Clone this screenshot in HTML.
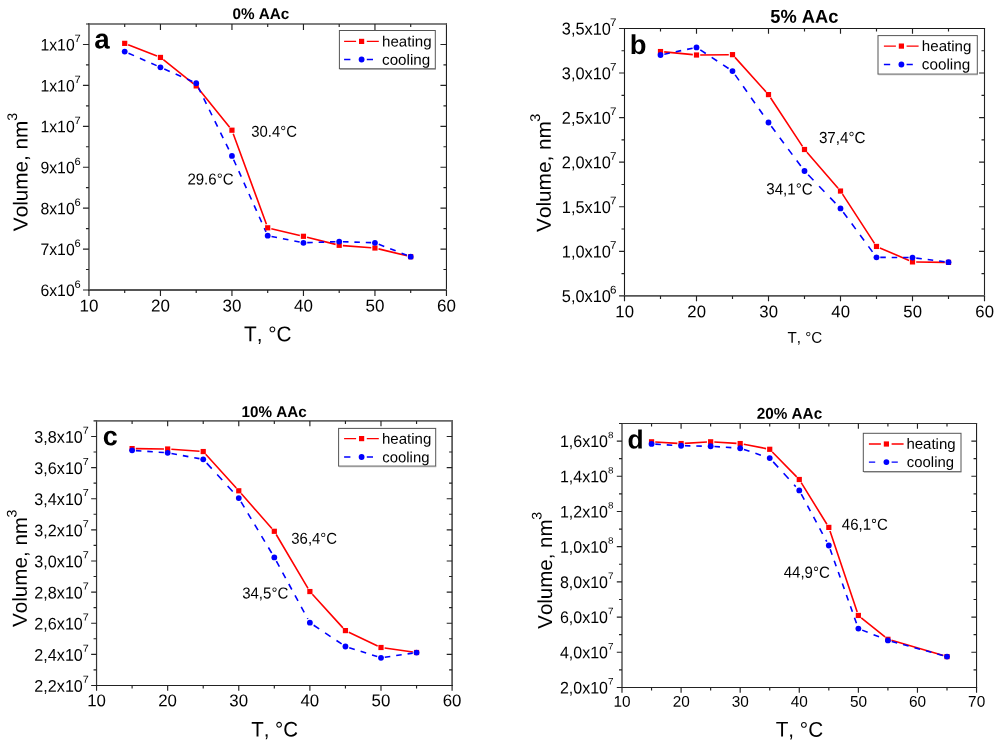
<!DOCTYPE html>
<html><head><meta charset="utf-8"><style>
html,body{margin:0;padding:0;background:#fff;width:1000px;height:746px;overflow:hidden;}
svg{display:block;will-change:transform;}
text{font-family:"Liberation Sans", sans-serif;fill:#000;text-rendering:geometricPrecision;font-kerning:none;}
</style></head><body>
<svg width="1000" height="746" viewBox="0 0 1000 746">
<rect width="1000" height="746" fill="#fff"/>
<path d="M88.95 23.15V290.9" stroke="#444" stroke-width="1.4"/>
<path d="M446.45 23.15V290.9" stroke="#222" stroke-width="1.1"/>
<path d="M88.25 24H447" stroke="#555" stroke-width="1.7"/>
<path d="M88.25 290H447" stroke="#555" stroke-width="1.8"/>
<path d="M88.95 290v6M124.7 290v3M124.7 24v3M160.45 290v6M160.45 24v6M196.2 290v3M196.2 24v3M231.95 290v6M231.95 24v6M267.7 290v3M267.7 24v3M303.45 290v6M303.45 24v6M339.2 290v3M339.2 24v3M374.95 290v6M374.95 24v6M410.7 290v3M410.7 24v3M446.45 290v6M88.95 290h-6M88.95 269.54h-3M446.45 269.54h-3M88.95 249.08h-6M446.45 249.08h-6M88.95 228.62h-3M446.45 228.62h-3M88.95 208.15h-6M446.45 208.15h-6M88.95 187.69h-3M446.45 187.69h-3M88.95 167.23h-6M446.45 167.23h-6M88.95 146.77h-3M446.45 146.77h-3M88.95 126.31h-6M446.45 126.31h-6M88.95 105.85h-3M446.45 105.85h-3M88.95 85.38h-6M446.45 85.38h-6M88.95 64.92h-3M446.45 64.92h-3M88.95 44.46h-6M446.45 44.46h-6M88.95 24h-3" stroke="#222" stroke-width="1.15" fill="none"/>
<text transform="translate(89.07 311.43) rotate(0.05) scale(1 1.01)" font-size="16.99" text-anchor="middle">10</text>
<text transform="translate(160.57 311.43) rotate(0.05) scale(1 1.01)" font-size="16.99" text-anchor="middle">20</text>
<text transform="translate(232.07 311.43) rotate(0.05) scale(1 1.01)" font-size="16.99" text-anchor="middle">30</text>
<text transform="translate(303.57 311.43) rotate(0.05) scale(1 1.01)" font-size="16.99" text-anchor="middle">40</text>
<text transform="translate(375.07 311.43) rotate(0.05) scale(1 1.01)" font-size="16.99" text-anchor="middle">50</text>
<text transform="translate(446.57 311.43) rotate(0.05) scale(1 1.01)" font-size="16.99" text-anchor="middle">60</text>
<text transform="translate(74.68 296.07) rotate(0.05) scale(1 1.05)" font-size="15.79" text-anchor="end">6x10</text>
<text transform="translate(74.52 287.65) rotate(0.05) scale(1 0.95)" font-size="11.13">6</text>
<text transform="translate(74.68 255.14) rotate(0.05) scale(1 1.05)" font-size="15.79" text-anchor="end">7x10</text>
<text transform="translate(74.52 246.73) rotate(0.05) scale(1 0.95)" font-size="11.13">6</text>
<text transform="translate(74.68 214.22) rotate(0.05) scale(1 1.05)" font-size="15.79" text-anchor="end">8x10</text>
<text transform="translate(74.52 205.81) rotate(0.05) scale(1 0.95)" font-size="11.13">6</text>
<text transform="translate(74.68 173.3) rotate(0.05) scale(1 1.05)" font-size="15.79" text-anchor="end">9x10</text>
<text transform="translate(74.52 164.88) rotate(0.05) scale(1 0.95)" font-size="11.13">6</text>
<text transform="translate(74.68 132.37) rotate(0.05) scale(1 1.05)" font-size="15.79" text-anchor="end">1x10</text>
<text transform="translate(74.52 123.96) rotate(0.05) scale(1 0.95)" font-size="11.13">7</text>
<text transform="translate(74.68 91.45) rotate(0.05) scale(1 1.05)" font-size="15.79" text-anchor="end">1x10</text>
<text transform="translate(74.52 83.04) rotate(0.05) scale(1 0.95)" font-size="11.13">7</text>
<text transform="translate(74.68 50.53) rotate(0.05) scale(1 1.05)" font-size="15.79" text-anchor="end">1x10</text>
<text transform="translate(74.52 42.11) rotate(0.05) scale(1 0.95)" font-size="11.13">7</text>
<path d="M128.14 44.72L157.01 56.08M163.34 59.74L193.31 83.6M198.52 88.78L229.63 127.32M233.22 133.67L266.43 224.33M271.3 228.66L299.85 235.44M307.04 237.2L335.61 244.4M342.89 245.58L371.26 247.72M378.55 248.87L407.1 255.83" fill="none" stroke="#f00" stroke-width="1.6"/>
<path d="M128.5 53.21L156.65 65.63" stroke="#00f" stroke-width="1.6" stroke-dasharray="6.01 6.45"/>
<path d="M164.25 68.99L192.4 81.47" stroke="#00f" stroke-width="1.6" stroke-dasharray="6.02 6.45"/>
<path d="M198.07 86.95L230.08 152.16" stroke="#00f" stroke-width="1.6" stroke-dasharray="6.13 6.57"/>
<path d="M233.65 159.76L266 231.9" stroke="#00f" stroke-width="1.6" stroke-dasharray="6.03 6.47"/>
<path d="M271.5 236.45L299.65 242.05" stroke="#00f" stroke-width="1.6" stroke-dasharray="5.61 6.02"/>
<path d="M307.25 242.67L335.4 241.73" stroke="#00f" stroke-width="1.6" stroke-dasharray="5.5 5.9"/>
<path d="M343 241.73L371.15 242.67" stroke="#00f" stroke-width="1.6" stroke-dasharray="5.5 5.9"/>
<path d="M378.75 244.28L406.9 255.22" stroke="#00f" stroke-width="1.6" stroke-dasharray="5.9 6.33"/>
<rect x="122.1" y="40.76" width="5.2" height="5.2" fill="#f00"/>
<rect x="157.85" y="54.84" width="5.2" height="5.2" fill="#f00"/>
<rect x="193.6" y="83.3" width="5.2" height="5.2" fill="#f00"/>
<rect x="229.35" y="127.6" width="5.2" height="5.2" fill="#f00"/>
<rect x="265.1" y="225.2" width="5.2" height="5.2" fill="#f00"/>
<rect x="300.85" y="233.7" width="5.2" height="5.2" fill="#f00"/>
<rect x="336.6" y="242.7" width="5.2" height="5.2" fill="#f00"/>
<rect x="372.35" y="245.4" width="5.2" height="5.2" fill="#f00"/>
<rect x="408.1" y="254.1" width="5.2" height="5.2" fill="#f00"/>
<circle cx="124.7" cy="51.53" r="2.9" fill="#00f"/>
<circle cx="160.45" cy="67.31" r="2.9" fill="#00f"/>
<circle cx="196.2" cy="83.15" r="2.9" fill="#00f"/>
<circle cx="231.95" cy="155.96" r="2.9" fill="#00f"/>
<circle cx="267.7" cy="235.7" r="2.9" fill="#00f"/>
<circle cx="303.45" cy="242.8" r="2.9" fill="#00f"/>
<circle cx="339.2" cy="241.6" r="2.9" fill="#00f"/>
<circle cx="374.95" cy="242.8" r="2.9" fill="#00f"/>
<circle cx="410.7" cy="256.7" r="2.9" fill="#00f"/>
<rect x="339.4" y="30.5" width="95.9" height="38.2" fill="#fff" stroke="#555" stroke-width="1"/>
<line x1="339.9" y1="69.3" x2="435.8" y2="69.3" stroke="#999" stroke-width="1"/>
<path d="M344.1 41.4h12M366.8 41.4h12" stroke="#f00" stroke-width="1.3"/>
<rect x="359" y="38.8" width="5.2" height="5.2" fill="#f00"/>
<path d="M344.1 59.5h6.3M366.8 59.5h6.2" stroke="#00f" stroke-width="1.3"/>
<circle cx="361.6" cy="59.5" r="2.9" fill="#00f"/>
<text transform="translate(232.41 19) rotate(0.05) scale(1.0000 1.0200)" font-size="15.29" font-weight="bold">0% AAc</text>
<text transform="translate(94.18 48.4) rotate(0.05)" font-size="27.79" font-weight="bold">a</text>
<text transform="translate(251.28 136.79) rotate(0.05) scale(1.0000 1.0600)" font-size="14.89">30.4°C</text>
<text transform="translate(187.38 184.53) rotate(0.05) scale(1.0000 1.0600)" font-size="15.04">29.6°C</text>
<text transform="translate(244.03 341.32) rotate(0.05) scale(1.0000 1.0250)" font-size="20.79">T, °C</text>
<text transform="translate(27.5 231.15) rotate(-89.95) scale(0.9625 0.9400)" font-size="21.5">Volume, nm<tspan font-size="14.75" dx="-0.07" dy="-11.4">3</tspan></text>
<text transform="translate(381.98 46.52) rotate(0.05) scale(1.0000 0.9900)" font-size="15.11">heating</text>
<text transform="translate(382.11 64.66) rotate(0.05) scale(1.0000 0.9900)" font-size="15.17">cooling</text>
<path d="M624.5 27.9V296.8" stroke="#1a1a1a" stroke-width="1.1"/>
<path d="M984.5 27.9V296.8" stroke="#222" stroke-width="1.1"/>
<path d="M623.95 28.45H985.05" stroke="#1a1a1a" stroke-width="1.1"/>
<path d="M623.95 295.9H985.05" stroke="#555" stroke-width="1.8"/>
<path d="M624.5 295.9v5.4M660.5 295.9v3M660.5 28.45v3M696.5 295.9v5.4M696.5 28.45v5.4M732.5 295.9v3M732.5 28.45v3M768.5 295.9v5.4M768.5 28.45v5.4M804.5 295.9v3M804.5 28.45v3M840.5 295.9v5.4M840.5 28.45v5.4M876.5 295.9v3M876.5 28.45v3M912.5 295.9v5.4M912.5 28.45v5.4M948.5 295.9v3M948.5 28.45v3M984.5 295.9v5.4M624.5 295.9h-5.4M624.5 273.61h-3M984.5 273.61h-3M624.5 251.32h-5.4M984.5 251.32h-5.4M624.5 229.04h-3M984.5 229.04h-3M624.5 206.75h-5.4M984.5 206.75h-5.4M624.5 184.46h-3M984.5 184.46h-3M624.5 162.17h-5.4M984.5 162.17h-5.4M624.5 139.89h-3M984.5 139.89h-3M624.5 117.6h-5.4M984.5 117.6h-5.4M624.5 95.31h-3M984.5 95.31h-3M624.5 73.02h-5.4M984.5 73.02h-5.4M624.5 50.74h-3M984.5 50.74h-3M624.5 28.45h-5.4" stroke="#222" stroke-width="1.15" fill="none"/>
<text transform="translate(624.65 317.23) rotate(0.05) scale(1 1.01)" font-size="16.7" text-anchor="middle">10</text>
<text transform="translate(696.65 317.23) rotate(0.05) scale(1 1.01)" font-size="16.7" text-anchor="middle">20</text>
<text transform="translate(768.65 317.23) rotate(0.05) scale(1 1.01)" font-size="16.7" text-anchor="middle">30</text>
<text transform="translate(840.65 317.23) rotate(0.05) scale(1 1.01)" font-size="16.7" text-anchor="middle">40</text>
<text transform="translate(912.65 317.23) rotate(0.05) scale(1 1.01)" font-size="16.7" text-anchor="middle">50</text>
<text transform="translate(984.65 317.23) rotate(0.05) scale(1 1.01)" font-size="16.7" text-anchor="middle">60</text>
<text transform="translate(610.94 302.1) rotate(0.05) scale(1 1.05)" font-size="16.35" text-anchor="end">5,0x10</text>
<text transform="translate(610.11 293.4) rotate(0.05) scale(1 0.95)" font-size="11.65">6</text>
<text transform="translate(610.94 257.52) rotate(0.05) scale(1 1.05)" font-size="16.35" text-anchor="end">1,0x10</text>
<text transform="translate(610.11 248.83) rotate(0.05) scale(1 0.95)" font-size="11.65">7</text>
<text transform="translate(610.94 212.95) rotate(0.05) scale(1 1.05)" font-size="16.35" text-anchor="end">1,5x10</text>
<text transform="translate(610.11 204.25) rotate(0.05) scale(1 0.95)" font-size="11.65">7</text>
<text transform="translate(610.94 168.37) rotate(0.05) scale(1 1.05)" font-size="16.35" text-anchor="end">2,0x10</text>
<text transform="translate(610.11 159.68) rotate(0.05) scale(1 0.95)" font-size="11.65">7</text>
<text transform="translate(610.94 123.8) rotate(0.05) scale(1 1.05)" font-size="16.35" text-anchor="end">2,5x10</text>
<text transform="translate(610.11 115.1) rotate(0.05) scale(1 0.95)" font-size="11.65">7</text>
<text transform="translate(610.94 79.22) rotate(0.05) scale(1 1.05)" font-size="16.35" text-anchor="end">3,0x10</text>
<text transform="translate(610.11 70.53) rotate(0.05) scale(1 0.95)" font-size="11.65">7</text>
<text transform="translate(610.94 34.65) rotate(0.05) scale(1 1.05)" font-size="16.35" text-anchor="end">3,5x10</text>
<text transform="translate(610.11 25.95) rotate(0.05) scale(1 0.95)" font-size="11.65">7</text>
<path d="M664.18 51.9L692.82 54.65M700.2 54.96L728.8 54.69M734.98 57.4L766.02 91.85M770.53 97.69L802.47 146.41M806.92 152.3L838.08 188.25M842.52 194.15L874.48 243.35M879.9 247.91L909.1 260.44M916.2 261.95L944.8 262.35" fill="none" stroke="#f00" stroke-width="1.6"/>
<path d="M664.3 54.2L692.7 48.2" stroke="#00f" stroke-width="1.6" stroke-dasharray="5.62 6.03"/>
<path d="M700.3 49.9L728.7 68.6" stroke="#00f" stroke-width="1.6" stroke-dasharray="6.58 7.06"/>
<path d="M735.16 74.9L765.84 118.7" stroke="#00f" stroke-width="1.6" stroke-dasharray="6.71 7.2"/>
<path d="M771.32 126.3L801.68 167.2" stroke="#00f" stroke-width="1.6" stroke-dasharray="6.85 7.35"/>
<path d="M808.16 174.8L836.84 204.6" stroke="#00f" stroke-width="1.6" stroke-dasharray="7.63 8.19"/>
<path d="M843.29 212.2L873.71 253.55" stroke="#00f" stroke-width="1.6" stroke-dasharray="6.83 7.32"/>
<path d="M880.3 257.38L908.7 257.57" stroke="#00f" stroke-width="1.6" stroke-dasharray="5.5 5.9"/>
<path d="M916.3 258.09L944.7 261.71" stroke="#00f" stroke-width="1.6" stroke-dasharray="5.54 5.95"/>
<rect x="657.9" y="48.95" width="5.2" height="5.2" fill="#f00"/>
<rect x="693.9" y="52.4" width="5.2" height="5.2" fill="#f00"/>
<rect x="729.9" y="52.05" width="5.2" height="5.2" fill="#f00"/>
<rect x="765.9" y="92" width="5.2" height="5.2" fill="#f00"/>
<rect x="801.9" y="146.9" width="5.2" height="5.2" fill="#f00"/>
<rect x="837.9" y="188.45" width="5.2" height="5.2" fill="#f00"/>
<rect x="873.9" y="243.85" width="5.2" height="5.2" fill="#f00"/>
<rect x="909.9" y="259.3" width="5.2" height="5.2" fill="#f00"/>
<rect x="945.9" y="259.8" width="5.2" height="5.2" fill="#f00"/>
<circle cx="660.5" cy="55" r="2.9" fill="#00f"/>
<circle cx="696.5" cy="47.4" r="2.9" fill="#00f"/>
<circle cx="732.5" cy="71.1" r="2.9" fill="#00f"/>
<circle cx="768.5" cy="122.5" r="2.9" fill="#00f"/>
<circle cx="804.5" cy="171" r="2.9" fill="#00f"/>
<circle cx="840.5" cy="208.4" r="2.9" fill="#00f"/>
<circle cx="876.5" cy="257.35" r="2.9" fill="#00f"/>
<circle cx="912.5" cy="257.6" r="2.9" fill="#00f"/>
<circle cx="948.5" cy="262.2" r="2.9" fill="#00f"/>
<rect x="878" y="35.6" width="99.3" height="38.5" fill="#fff" stroke="#555" stroke-width="1"/>
<line x1="878.5" y1="74.7" x2="977.8" y2="74.7" stroke="#999" stroke-width="1"/>
<path d="M883.9 46.1h12M906.6 46.1h12" stroke="#f00" stroke-width="1.3"/>
<rect x="898.8" y="43.5" width="5.2" height="5.2" fill="#f00"/>
<path d="M883.9 64.5h6.3M906.6 64.5h6.2" stroke="#00f" stroke-width="1.3"/>
<circle cx="901.4" cy="64.5" r="2.9" fill="#00f"/>
<text transform="translate(770.37 22.79) rotate(0.05) scale(1.0000 1.0200)" font-size="18.3" font-weight="bold">5% AAc</text>
<text transform="translate(629.77 53.89) rotate(0.05)" font-size="27.41" font-weight="bold">b</text>
<text transform="translate(818.89 142.97) rotate(0.05) scale(1.0000 1.0600)" font-size="15.2">37,4°C</text>
<text transform="translate(766.26 194.37) rotate(0.05) scale(1.0000 1.0600)" font-size="15.15">34,1°C</text>
<text transform="translate(787.56 342.7) rotate(0.05) scale(1.0000 1.0250)" font-size="15.14">T, °C</text>
<text transform="translate(550.67 231.95) rotate(-89.95) scale(0.9655 0.9400)" font-size="21.5">Volume, nm<tspan font-size="15.03" dx="-0.58" dy="-11.53">3</tspan></text>
<text transform="translate(921.86 51.1) rotate(0.05) scale(1.0000 0.9900)" font-size="15.11">heating</text>
<text transform="translate(921.82 69.37) rotate(0.05) scale(1.0000 0.9900)" font-size="15.28">cooling</text>
<path d="M96.55 419.95V686" stroke="#333" stroke-width="1.2"/>
<path d="M452.1 419.95V686" stroke="#555" stroke-width="1.7"/>
<path d="M95.95 420.9H452.95" stroke="#666" stroke-width="1.9"/>
<path d="M95.95 685.45H452.95" stroke="#222" stroke-width="1.1"/>
<path d="M96.55 685.45v5.4M132.1 685.45v3M132.1 420.9v3M167.66 685.45v5.4M167.66 420.9v5.4M203.22 685.45v3M203.22 420.9v3M238.77 685.45v5.4M238.77 420.9v5.4M274.32 685.45v3M274.32 420.9v3M309.88 685.45v5.4M309.88 420.9v5.4M345.44 685.45v3M345.44 420.9v3M380.99 685.45v5.4M380.99 420.9v5.4M416.55 685.45v3M416.55 420.9v3M452.1 685.45v5.4M96.55 685.45h-5.4M96.55 669.89h-3M452.1 669.89h-3M96.55 654.33h-5.4M452.1 654.33h-5.4M96.55 638.76h-3M452.1 638.76h-3M96.55 623.2h-5.4M452.1 623.2h-5.4M96.55 607.64h-3M452.1 607.64h-3M96.55 592.08h-5.4M452.1 592.08h-5.4M96.55 576.52h-3M452.1 576.52h-3M96.55 560.96h-5.4M452.1 560.96h-5.4M96.55 545.39h-3M452.1 545.39h-3M96.55 529.83h-5.4M452.1 529.83h-5.4M96.55 514.27h-3M452.1 514.27h-3M96.55 498.71h-5.4M452.1 498.71h-5.4M96.55 483.15h-3M452.1 483.15h-3M96.55 467.59h-5.4M452.1 467.59h-5.4M96.55 452.02h-3M452.1 452.02h-3M96.55 436.46h-5.4M452.1 436.46h-5.4M96.55 420.9h-3" stroke="#222" stroke-width="1.15" fill="none"/>
<text transform="translate(96.51 706.35) rotate(0.05) scale(1 1.01)" font-size="16.85" text-anchor="middle">10</text>
<text transform="translate(167.62 706.35) rotate(0.05) scale(1 1.01)" font-size="16.85" text-anchor="middle">20</text>
<text transform="translate(238.73 706.35) rotate(0.05) scale(1 1.01)" font-size="16.85" text-anchor="middle">30</text>
<text transform="translate(309.84 706.35) rotate(0.05) scale(1 1.01)" font-size="16.85" text-anchor="middle">40</text>
<text transform="translate(380.95 706.35) rotate(0.05) scale(1 1.01)" font-size="16.85" text-anchor="middle">50</text>
<text transform="translate(452.06 706.35) rotate(0.05) scale(1 1.01)" font-size="16.85" text-anchor="middle">60</text>
<text transform="translate(82.84 691.8) rotate(0.05) scale(1 1.05)" font-size="16.15" text-anchor="end">2,2x10</text>
<text transform="translate(82.63 682.86) rotate(0.05) scale(1 0.95)" font-size="10.76">7</text>
<text transform="translate(82.84 660.67) rotate(0.05) scale(1 1.05)" font-size="16.15" text-anchor="end">2,4x10</text>
<text transform="translate(82.63 651.74) rotate(0.05) scale(1 0.95)" font-size="10.76">7</text>
<text transform="translate(82.84 629.55) rotate(0.05) scale(1 1.05)" font-size="16.15" text-anchor="end">2,6x10</text>
<text transform="translate(82.63 620.61) rotate(0.05) scale(1 0.95)" font-size="10.76">7</text>
<text transform="translate(82.84 598.42) rotate(0.05) scale(1 1.05)" font-size="16.15" text-anchor="end">2,8x10</text>
<text transform="translate(82.63 589.49) rotate(0.05) scale(1 0.95)" font-size="10.76">7</text>
<text transform="translate(82.84 567.3) rotate(0.05) scale(1 1.05)" font-size="16.15" text-anchor="end">3,0x10</text>
<text transform="translate(82.63 558.37) rotate(0.05) scale(1 0.95)" font-size="10.76">7</text>
<text transform="translate(82.84 536.18) rotate(0.05) scale(1 1.05)" font-size="16.15" text-anchor="end">3,2x10</text>
<text transform="translate(82.63 527.24) rotate(0.05) scale(1 0.95)" font-size="10.76">7</text>
<text transform="translate(82.84 505.05) rotate(0.05) scale(1 1.05)" font-size="16.15" text-anchor="end">3,4x10</text>
<text transform="translate(82.63 496.12) rotate(0.05) scale(1 0.95)" font-size="10.76">7</text>
<text transform="translate(82.84 473.93) rotate(0.05) scale(1 1.05)" font-size="16.15" text-anchor="end">3,6x10</text>
<text transform="translate(82.63 465) rotate(0.05) scale(1 0.95)" font-size="10.76">7</text>
<text transform="translate(82.84 442.81) rotate(0.05) scale(1 1.05)" font-size="16.15" text-anchor="end">3,8x10</text>
<text transform="translate(82.63 433.87) rotate(0.05) scale(1 0.95)" font-size="10.76">7</text>
<path d="M135.8 448.64L163.96 448.96M171.35 449.26L199.53 451.29M205.7 454.29L236.29 488.06M241.21 493.58L271.88 528.52M276.2 534.49L308 588.36M312.37 594.29L342.95 627.86M348.78 632.19L377.65 645.91M384.65 648.02L412.89 651.98" fill="none" stroke="#f00" stroke-width="1.6"/>
<path d="M135.9 450.61L163.86 452.54" stroke="#00f" stroke-width="1.6" stroke-dasharray="5.51 5.91"/>
<path d="M171.46 453.5L199.42 458.65" stroke="#00f" stroke-width="1.6" stroke-dasharray="5.59 6"/>
<path d="M206.71 463.15L235.28 494.3" stroke="#00f" stroke-width="1.6" stroke-dasharray="7.46 8.01"/>
<path d="M241.05 501.9L272.04 553.6" stroke="#00f" stroke-width="1.6" stroke-dasharray="6.41 6.88"/>
<path d="M276.39 561.2L307.81 618.9" stroke="#00f" stroke-width="1.6" stroke-dasharray="6.26 6.72"/>
<path d="M313.68 625.24L341.64 643.96" stroke="#00f" stroke-width="1.6" stroke-dasharray="6.62 7.1"/>
<path d="M349.24 647.71L377.19 656.59" stroke="#00f" stroke-width="1.6" stroke-dasharray="5.77 6.19"/>
<path d="M384.79 657.24L412.75 653.16" stroke="#00f" stroke-width="1.6" stroke-dasharray="5.56 5.96"/>
<rect x="129.5" y="446" width="5.2" height="5.2" fill="#f00"/>
<rect x="165.06" y="446.4" width="5.2" height="5.2" fill="#f00"/>
<rect x="200.62" y="448.95" width="5.2" height="5.2" fill="#f00"/>
<rect x="236.17" y="488.2" width="5.2" height="5.2" fill="#f00"/>
<rect x="271.72" y="528.7" width="5.2" height="5.2" fill="#f00"/>
<rect x="307.28" y="588.95" width="5.2" height="5.2" fill="#f00"/>
<rect x="342.84" y="628" width="5.2" height="5.2" fill="#f00"/>
<rect x="378.39" y="644.9" width="5.2" height="5.2" fill="#f00"/>
<rect x="413.95" y="649.9" width="5.2" height="5.2" fill="#f00"/>
<circle cx="132.1" cy="450.35" r="2.9" fill="#00f"/>
<circle cx="167.66" cy="452.8" r="2.9" fill="#00f"/>
<circle cx="203.22" cy="459.35" r="2.9" fill="#00f"/>
<circle cx="238.77" cy="498.1" r="2.9" fill="#00f"/>
<circle cx="274.32" cy="557.4" r="2.9" fill="#00f"/>
<circle cx="309.88" cy="622.7" r="2.9" fill="#00f"/>
<circle cx="345.44" cy="646.5" r="2.9" fill="#00f"/>
<circle cx="380.99" cy="657.8" r="2.9" fill="#00f"/>
<circle cx="416.55" cy="652.6" r="2.9" fill="#00f"/>
<rect x="338.6" y="428.4" width="97.1" height="37.7" fill="#fff" stroke="#555" stroke-width="1"/>
<line x1="339.1" y1="466.7" x2="436.2" y2="466.7" stroke="#999" stroke-width="1"/>
<path d="M344.1 438.6h12M366.8 438.6h12" stroke="#f00" stroke-width="1.3"/>
<rect x="359" y="436" width="5.2" height="5.2" fill="#f00"/>
<path d="M344.1 457h6.3M366.8 457h6.2" stroke="#00f" stroke-width="1.3"/>
<circle cx="361.6" cy="457" r="2.9" fill="#00f"/>
<text transform="translate(241.62 417.07) rotate(0.05) scale(1.0000 1.0200)" font-size="15.22" font-weight="bold">10% AAc</text>
<text transform="translate(102.71 445.13) rotate(0.05)" font-size="26.94" font-weight="bold">c</text>
<text transform="translate(291.33 543.77) rotate(0.05) scale(1.0000 1.0600)" font-size="14.91">36,4°C</text>
<text transform="translate(242.16 598.38) rotate(0.05) scale(1.0000 1.0600)" font-size="15.03">34,5°C</text>
<text transform="translate(251.17 736.53) rotate(0.05) scale(1.0000 1.0250)" font-size="20.49">T, °C</text>
<text transform="translate(26.82 626.93) rotate(-89.95) scale(0.9585 0.9400)" font-size="21.5">Volume, nm<tspan font-size="14.73" dx="-0.55" dy="-11.02">3</tspan></text>
<text transform="translate(381.89 443.73) rotate(0.05) scale(1.0000 0.9900)" font-size="15.05">heating</text>
<text transform="translate(382.23 462.17) rotate(0.05) scale(1.0000 0.9900)" font-size="14.91">cooling</text>
<path d="M622 422.9V688" stroke="#555" stroke-width="1.5"/>
<path d="M976.55 422.9V688" stroke="#222" stroke-width="1.1"/>
<path d="M621.25 423.45H977.1" stroke="#333" stroke-width="1.1"/>
<path d="M621.25 687.45H977.1" stroke="#222" stroke-width="1.1"/>
<path d="M622 687.45v5.2M651.55 687.45v3M651.55 423.45v3M681.09 687.45v5.2M681.09 423.45v5.2M710.64 687.45v3M710.64 423.45v3M740.18 687.45v5.2M740.18 423.45v5.2M769.73 687.45v3M769.73 423.45v3M799.27 687.45v5.2M799.27 423.45v5.2M828.82 687.45v3M828.82 423.45v3M858.37 687.45v5.2M858.37 423.45v5.2M887.91 687.45v3M887.91 423.45v3M917.46 687.45v5.2M917.46 423.45v5.2M947 687.45v3M947 423.45v3M976.55 687.45v5.2M622 687.45h-5.2M622 669.85h-3M976.55 669.85h-3M622 652.25h-5.2M976.55 652.25h-5.2M622 634.65h-3M976.55 634.65h-3M622 617.05h-5.2M976.55 617.05h-5.2M622 599.45h-3M976.55 599.45h-3M622 581.85h-5.2M976.55 581.85h-5.2M622 564.25h-3M976.55 564.25h-3M622 546.65h-5.2M976.55 546.65h-5.2M622 529.05h-3M976.55 529.05h-3M622 511.45h-5.2M976.55 511.45h-5.2M622 493.85h-3M976.55 493.85h-3M622 476.25h-5.2M976.55 476.25h-5.2M622 458.65h-3M976.55 458.65h-3M622 441.05h-5.2M976.55 441.05h-5.2M622 423.45h-3" stroke="#222" stroke-width="1.15" fill="none"/>
<text transform="translate(622.09 706.86) rotate(0.05) scale(1 1.01)" font-size="15.37" text-anchor="middle">10</text>
<text transform="translate(681.19 706.86) rotate(0.05) scale(1 1.01)" font-size="15.37" text-anchor="middle">20</text>
<text transform="translate(740.28 706.86) rotate(0.05) scale(1 1.01)" font-size="15.37" text-anchor="middle">30</text>
<text transform="translate(799.37 706.86) rotate(0.05) scale(1 1.01)" font-size="15.37" text-anchor="middle">40</text>
<text transform="translate(858.46 706.86) rotate(0.05) scale(1 1.01)" font-size="15.37" text-anchor="middle">50</text>
<text transform="translate(917.55 706.86) rotate(0.05) scale(1 1.01)" font-size="15.37" text-anchor="middle">60</text>
<text transform="translate(976.64 706.86) rotate(0.05) scale(1 1.01)" font-size="15.37" text-anchor="middle">70</text>
<text transform="translate(607.93 693.53) rotate(0.05) scale(1 1.05)" font-size="16" text-anchor="end">2,0x10</text>
<text transform="translate(608.09 684.59) rotate(0.05) scale(1 0.95)" font-size="9.92">7</text>
<text transform="translate(607.93 658.33) rotate(0.05) scale(1 1.05)" font-size="16" text-anchor="end">4,0x10</text>
<text transform="translate(608.09 649.39) rotate(0.05) scale(1 0.95)" font-size="9.92">7</text>
<text transform="translate(607.93 623.13) rotate(0.05) scale(1 1.05)" font-size="16" text-anchor="end">6,0x10</text>
<text transform="translate(608.09 614.19) rotate(0.05) scale(1 0.95)" font-size="9.92">7</text>
<text transform="translate(607.93 587.93) rotate(0.05) scale(1 1.05)" font-size="16" text-anchor="end">8,0x10</text>
<text transform="translate(608.09 578.99) rotate(0.05) scale(1 0.95)" font-size="9.92">7</text>
<text transform="translate(607.93 552.73) rotate(0.05) scale(1 1.05)" font-size="16" text-anchor="end">1,0x10</text>
<text transform="translate(608.09 543.79) rotate(0.05) scale(1 0.95)" font-size="9.92">8</text>
<text transform="translate(607.93 517.53) rotate(0.05) scale(1 1.05)" font-size="16" text-anchor="end">1,2x10</text>
<text transform="translate(608.09 508.59) rotate(0.05) scale(1 0.95)" font-size="9.92">8</text>
<text transform="translate(607.93 482.33) rotate(0.05) scale(1 1.05)" font-size="16" text-anchor="end">1,4x10</text>
<text transform="translate(608.09 473.39) rotate(0.05) scale(1 0.95)" font-size="9.92">8</text>
<text transform="translate(607.93 447.13) rotate(0.05) scale(1 1.05)" font-size="16" text-anchor="end">1,6x10</text>
<text transform="translate(608.09 438.19) rotate(0.05) scale(1 0.95)" font-size="9.92">8</text>
<path d="M655.24 442.02L677.4 443.33M684.78 443.33L706.95 442.02M714.33 442.02L736.49 443.33M743.81 444.26L766.1 448.59M772.32 451.95L796.68 476.85M801.21 482.65L826.88 524.25M830 530.91L857.19 611.94M861.25 617.77L885.03 636.98M891.46 640.34L943.45 655.56" fill="none" stroke="#f00" stroke-width="1.6"/>
<path d="M655.35 444.14L677.29 445.51" stroke="#00f" stroke-width="1.6" stroke-dasharray="5.51 5.91"/>
<path d="M684.89 445.81L706.84 446.19" stroke="#00f" stroke-width="1.6" stroke-dasharray="5.5 5.9"/>
<path d="M714.44 446.51L736.38 447.99" stroke="#00f" stroke-width="1.6" stroke-dasharray="5.51 5.91"/>
<path d="M743.98 449.52L765.93 456.83" stroke="#00f" stroke-width="1.6" stroke-dasharray="5.8 6.22"/>
<path d="M773.21 461.9L795.79 486.6" stroke="#00f" stroke-width="1.6" stroke-dasharray="7.45 8"/>
<path d="M801.31 494.2L826.78 541.7" stroke="#00f" stroke-width="1.6" stroke-dasharray="6.24 6.69"/>
<path d="M830.17 549.3L857.02 624.8" stroke="#00f" stroke-width="1.6" stroke-dasharray="5.84 6.26"/>
<path d="M862.17 630.12L884.11 638.88" stroke="#00f" stroke-width="1.6" stroke-dasharray="5.92 6.35"/>
<path d="M891.71 641.44L943.2 655.56" stroke="#00f" stroke-width="1.6" stroke-dasharray="5.7 6.12"/>
<rect x="648.95" y="439.2" width="5.2" height="5.2" fill="#f00"/>
<rect x="678.49" y="440.95" width="5.2" height="5.2" fill="#f00"/>
<rect x="708.04" y="439.2" width="5.2" height="5.2" fill="#f00"/>
<rect x="737.58" y="440.95" width="5.2" height="5.2" fill="#f00"/>
<rect x="767.13" y="446.7" width="5.2" height="5.2" fill="#f00"/>
<rect x="796.67" y="476.9" width="5.2" height="5.2" fill="#f00"/>
<rect x="826.22" y="524.8" width="5.2" height="5.2" fill="#f00"/>
<rect x="855.77" y="612.85" width="5.2" height="5.2" fill="#f00"/>
<rect x="885.31" y="636.7" width="5.2" height="5.2" fill="#f00"/>
<rect x="944.4" y="654" width="5.2" height="5.2" fill="#f00"/>
<circle cx="651.55" cy="443.9" r="2.9" fill="#00f"/>
<circle cx="681.09" cy="445.75" r="2.9" fill="#00f"/>
<circle cx="710.64" cy="446.25" r="2.9" fill="#00f"/>
<circle cx="740.18" cy="448.25" r="2.9" fill="#00f"/>
<circle cx="769.73" cy="458.1" r="2.9" fill="#00f"/>
<circle cx="799.27" cy="490.4" r="2.9" fill="#00f"/>
<circle cx="828.82" cy="545.5" r="2.9" fill="#00f"/>
<circle cx="858.37" cy="628.6" r="2.9" fill="#00f"/>
<circle cx="887.91" cy="640.4" r="2.9" fill="#00f"/>
<circle cx="947" cy="656.6" r="2.9" fill="#00f"/>
<rect x="863.3" y="433.3" width="97.7" height="38.2" fill="#fff" stroke="#555" stroke-width="1"/>
<line x1="863.8" y1="472.1" x2="961.5" y2="472.1" stroke="#999" stroke-width="1"/>
<path d="M868.9 444h12M891.6 444h12" stroke="#f00" stroke-width="1.3"/>
<rect x="883.8" y="441.4" width="5.2" height="5.2" fill="#f00"/>
<path d="M868.9 462.1h6.3M891.6 462.1h6.2" stroke="#00f" stroke-width="1.3"/>
<circle cx="886.4" cy="462.1" r="2.9" fill="#00f"/>
<text transform="translate(756.68 418.73) rotate(0.05) scale(1.0000 1.0200)" font-size="15.31" font-weight="bold">20% AAc</text>
<text transform="translate(627.49 448.55) rotate(0.05)" font-size="26.4" font-weight="bold">d</text>
<text transform="translate(841.81 529.74) rotate(0.05) scale(1.0000 1.0600)" font-size="15.01">46,1°C</text>
<text transform="translate(783.69 577.61) rotate(0.05) scale(1.0000 1.0600)" font-size="15.06">44,9°C</text>
<text transform="translate(775.68 736.62) rotate(0.05) scale(1.0000 1.0250)" font-size="20.73">T, °C</text>
<text transform="translate(551.92 628.75) rotate(-89.95) scale(0.9531 0.9400)" font-size="21.5">Volume, nm<tspan font-size="14.76" dx="-0.3" dy="-11.07">3</tspan></text>
<text transform="translate(906.43 448.86) rotate(0.05) scale(1.0000 0.9900)" font-size="15.01">heating</text>
<text transform="translate(906.82 466.98) rotate(0.05) scale(1.0000 0.9900)" font-size="14.9">cooling</text>
</svg>
</body></html>
